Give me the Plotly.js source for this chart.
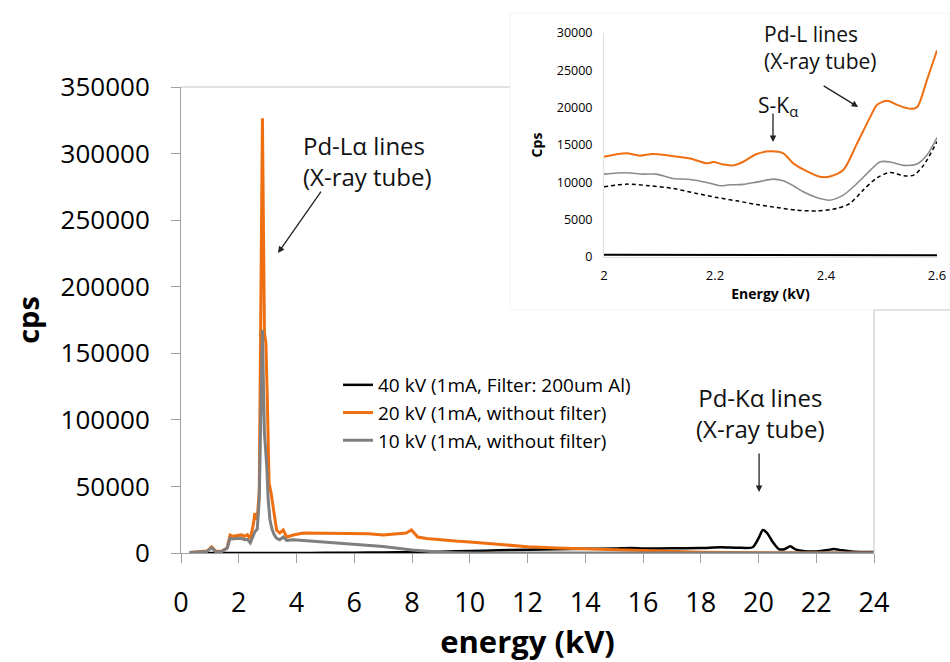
<!DOCTYPE html>
<html>
<head>
<meta charset="utf-8">
<script src="https://cdn.plot.ly/plotly-3.0.1.min.js"></script>
<style>html,body{margin:0;padding:0;background:#fff;}#chart{width:950px;height:662px;}</style>
</head>
<body>
<div id="chart"></div>
<script>
// ---- main spectrum data (energy in kV, counts per second) ----
const x40 = [0.3,1,2,3,4,5,6,7,8,9,10,11,12,13,14,15,15.6,16,17,18,18.7,19.3,19.8,20.0,20.15,20.3,20.5,20.7,20.9,21.1,21.3,21.6,22,22.4,22.6,22.9,23.3,24];
const y40 = [0,0,0,0,0,100,200,400,600,1000,1500,2000,2500,2900,3100,3300,3700,3400,3500,3700,4300,3900,4300,11000,17300,15000,8000,3000,2800,5000,2500,1300,1200,2200,3000,2000,1000,800];

const x20 = [0.3,0.6,0.9,1.06,1.2,1.4,1.6,1.7,1.8,1.9,2.0,2.1,2.2,2.3,2.4,2.5,2.56,2.64,2.71,2.77,2.82,2.89,2.94,2.99,3.05,3.12,3.22,3.31,3.42,3.54,3.66,3.89,4.24,5.0,5.5,6.0,6.5,7.0,7.5,7.8,7.98,8.2,8.5,9.0,9.5,10,11,12,13,14,15,16,17,18,19,20,21,22,23,24];
const y20 = [300,800,1500,4700,1500,1200,4000,13500,12500,13000,13400,13600,12500,13800,10800,20900,30000,25000,47000,200000,326500,165000,157700,115000,52500,45000,30000,17300,15000,17300,12000,13500,15000,15000,14800,14600,14500,13600,14200,15000,17300,12000,10900,9800,9000,8300,6500,4700,3700,3000,2300,1500,1000,600,300,100,50,0,0,0];

const x10 = [0.3,0.6,0.9,1.06,1.2,1.4,1.6,1.7,1.8,1.9,2.0,2.1,2.2,2.3,2.4,2.5,2.56,2.64,2.71,2.77,2.82,2.86,2.89,2.93,2.97,3.02,3.08,3.15,3.22,3.31,3.42,3.54,3.66,3.89,4.0,5.0,6.0,7.0,8.0,9.0,9.5,10,12,14,16,18,20,22,24];
const y10 = [300,700,1200,4000,1000,1000,3500,11000,10500,10800,11100,11000,10000,10300,7600,12700,16000,18000,40000,110000,167500,120000,90000,77400,65000,40000,25000,18000,14000,11000,10000,12000,9500,10000,9800,8500,6500,4800,2300,500,200,0,0,0,0,0,0,0,0];

// ---- inset data (2.0 - 2.6 kV) ----
const xi20 = [2.0,2.04,2.064,2.088,2.119,2.155,2.185,2.197,2.215,2.233,2.251,2.275,2.299,2.323,2.341,2.359,2.389,2.407,2.431,2.456,2.48,2.492,2.51,2.528,2.552,2.564,2.582,2.6];
const yi20 = [13430,13880,13570,13790,13570,13200,12540,12720,12400,12270,12760,13790,14150,13880,12540,11730,10750,10790,11640,15220,18800,20380,20910,20380,19840,20060,23730,27670];

const xi10 = [2.0,2.04,2.07,2.094,2.124,2.155,2.185,2.209,2.227,2.251,2.275,2.305,2.323,2.341,2.359,2.383,2.407,2.431,2.456,2.48,2.498,2.516,2.54,2.564,2.582,2.6];
const yi10 = [11100,11280,11100,11100,10520,10390,9990,9540,9670,9720,10030,10430,10210,9540,8730,7970,7610,8280,9850,11640,12760,12720,12270,12450,13660,15990];

const xiDash = [2.0,2.04,2.082,2.124,2.167,2.203,2.239,2.275,2.311,2.347,2.383,2.419,2.443,2.467,2.492,2.516,2.54,2.558,2.576,2.6];
const yiDash = [9400,9760,9540,9180,8510,7970,7520,7030,6630,6270,6180,6490,7170,8960,10610,11330,10880,10970,12310,15450];

const xi40 = [2.0,2.3,2.6];
const yi40 = [300,270,250];

// ---- labels ----
const legendNames = ['40 kV (1mA, Filter: 200um Al)','20 kV (1mA, without filter)','10 kV (1mA, without filter)'];
const colBlack = '#000000', colOrange = '#EE6F12', colGray = '#7F7F7F';

const W = 950, H = 662;
const px = v => v / W;           // pixel -> paper x
const py = v => (H - v) / H;     // pixel -> paper y

const traces = [
  {x:x40, y:y40, name:legendNames[0], type:'scatter', mode:'lines', line:{color:colBlack, width:2.5, shape:'spline', smoothing:0.6}, xaxis:'x', yaxis:'y'},
  {x:x20, y:y20, name:legendNames[1], type:'scatter', mode:'lines', line:{color:colOrange, width:3}, xaxis:'x', yaxis:'y'},
  {x:x10, y:y10, name:legendNames[2], type:'scatter', mode:'lines', line:{color:colGray, width:3}, xaxis:'x', yaxis:'y'},
  {x:xi20, y:yi20, showlegend:false, type:'scatter', mode:'lines', line:{color:colOrange, width:2, shape:'spline', smoothing:0.8}, xaxis:'x2', yaxis:'y2'},
  {x:xi10, y:yi10, showlegend:false, type:'scatter', mode:'lines', line:{color:'#8C8C8C', width:1.6, shape:'spline', smoothing:0.8}, xaxis:'x2', yaxis:'y2'},
  {x:xiDash, y:yiDash, showlegend:false, type:'scatter', mode:'lines', line:{color:colBlack, width:1.5, dash:'4px,3px', shape:'spline', smoothing:0.8}, xaxis:'x2', yaxis:'y2'},
  {x:xi40, y:yi40, showlegend:false, type:'scatter', mode:'lines', line:{color:colBlack, width:2}, xaxis:'x2', yaxis:'y2'}
];

const font = 'Open Sans, Lato, sans-serif';

const layout = {
  width: W, height: H,
  margin: {l:0, r:0, t:0, b:0},
  paper_bgcolor: '#ffffff', plot_bgcolor: 'rgba(0,0,0,0)',
  font: {family: font, color: '#000'},
  showlegend: true,
  hovermode: false,
  xaxis: {
    domain: [px(181), px(874)], anchor: 'y',
    range: [0, 24], dtick: 2, tick0: 0,
    showgrid: false, zeroline: false,
    showline: true, linecolor: '#a0a0a0', linewidth: 1,
    ticks: 'outside', ticklen: 9, tickcolor: '#a0a0a0',
    ticklabelstandoff: 17,
    tickfont: {size: 27, family: font, color: '#000'},
    title: {text: '<b>energy (kV)</b>', font: {size: 31, family: font, color: '#000'}, standoff: 6},
    automargin: false
  },
  yaxis: {
    domain: [py(553), py(87)], anchor: 'x',
    range: [0, 350000], dtick: 50000, tick0: 0, tickformat: 'd',
    showgrid: false, zeroline: false,
    showline: true, linecolor: '#a0a0a0', linewidth: 1,
    ticks: 'outside', ticklen: 9, tickcolor: '#a0a0a0',
    ticklabelstandoff: 16,
    tickfont: {size: 26, family: font, color: '#000'},
    title: {text: '<b>cps</b>', font: {size: 29, family: font, color: '#000'}, standoff: 12},
    automargin: false
  },
  xaxis2: {
    domain: [px(604), px(937)], anchor: 'y2',
    range: [2, 2.6], tickvals: [2, 2.2, 2.4, 2.6],
    showgrid: false, zeroline: false,
    showline: true, linecolor: '#e0e0e0', linewidth: 1,
    ticks: '', ticklabelstandoff: 6,
    tickfont: {size: 13, family: font, color: '#000'},
    title: {text: '<b>Energy (kV)</b>', font: {size: 14, family: font, color: '#000'}, standoff: 6},
    automargin: false
  },
  yaxis2: {
    domain: [py(257), py(33)], anchor: 'x2',
    range: [0, 30000], dtick: 5000, tick0: 0, tickformat: 'd',
    showgrid: false, zeroline: false,
    showline: true, linecolor: '#e0e0e0', linewidth: 1,
    ticks: '', ticklabelstandoff: 8,
    tickfont: {size: 12.5, family: font, color: '#000'},
    title: {text: '<b>Cps</b>', font: {size: 14, family: font, color: '#000'}, standoff: 10},
    automargin: false
  },
  legend: {
    x: px(338), y: py(366), xanchor: 'left', yanchor: 'top',
    bgcolor: 'rgba(0,0,0,0)', borderwidth: 0,
    font: {size: 19, family: font, color: '#000'},
    itemwidth: 30, tracegroupgap: 0
  },
  shapes: [
    // inset picture frame (faint)
    {type:'rect', xref:'paper', yref:'paper', x0:px(510), x1:px(949), y0:py(310), y1:py(13), line:{color:'#f3f3f3', width:1}, fillcolor:'rgba(0,0,0,0)', layer:'below'},
    // main plot-area frame parts left visible around the inset
    {type:'line', xref:'paper', yref:'paper', x0:px(181), x1:px(510), y0:py(87), y1:py(87), line:{color:'#c4c4c4', width:1}},
    {type:'line', xref:'paper', yref:'paper', x0:px(874), x1:px(874), y0:py(553), y1:py(310), line:{color:'#c4c4c4', width:1}},
    {type:'line', xref:'paper', yref:'paper', x0:px(874), x1:px(950), y0:py(310), y1:py(310), line:{color:'#cccccc', width:1}}
  ],
  annotations: [
    {xref:'paper', yref:'paper', x:px(301), y:py(161), xanchor:'left', yanchor:'middle', align:'left', showarrow:false,
     text:'Pd-Lα lines<br>(X-ray tube)', font:{size:24, family:font, color:'#111'}},
    {xref:'x', yref:'y', x:3.36, y:225300, ax:44, ay:-63, axref:'pixel', ayref:'pixel', text:'', showarrow:true,
     arrowhead:2, arrowsize:1, arrowwidth:1.3, arrowcolor:'#222'},
    {xref:'paper', yref:'paper', x:px(760), y:py(413), xanchor:'center', yanchor:'middle', align:'center', showarrow:false,
     text:'Pd-Kα lines<br>(X-ray tube)', font:{size:24, family:font, color:'#111'}},
    {xref:'x', yref:'y', x:20.02, y:45800, ax:0, ay:-40, axref:'pixel', ayref:'pixel', text:'', showarrow:true,
     arrowhead:2, arrowsize:1, arrowwidth:1.3, arrowcolor:'#222'},
    {xref:'paper', yref:'paper', x:px(762), y:py(48), xanchor:'left', yanchor:'middle', align:'left', showarrow:false,
     text:'Pd-L lines<br>(X-ray tube)', font:{size:21, family:font, color:'#111'}},
    {xref:'x2', yref:'y2', x:2.458, y:20090, ax:-36, ay:-22, axref:'pixel', ayref:'pixel', text:'', showarrow:true,
     arrowhead:2, arrowsize:1, arrowwidth:1.3, arrowcolor:'#222'},
    {xref:'paper', yref:'paper', x:px(756), y:py(106), xanchor:'left', yanchor:'middle', align:'left', showarrow:false,
     text:'S-K<sub>α</sub>', font:{size:21, family:font, color:'#111'}},
    {xref:'x2', yref:'y2', x:2.3045, y:15400, ax:0, ay:-30, axref:'pixel', ayref:'pixel', text:'', showarrow:true,
     arrowhead:2, arrowsize:1, arrowwidth:1.3, arrowcolor:'#222'}
  ]
};

Plotly.newPlot('chart', traces, layout, {displayModeBar:false, staticPlot:true});
</script>
</body>
</html>
